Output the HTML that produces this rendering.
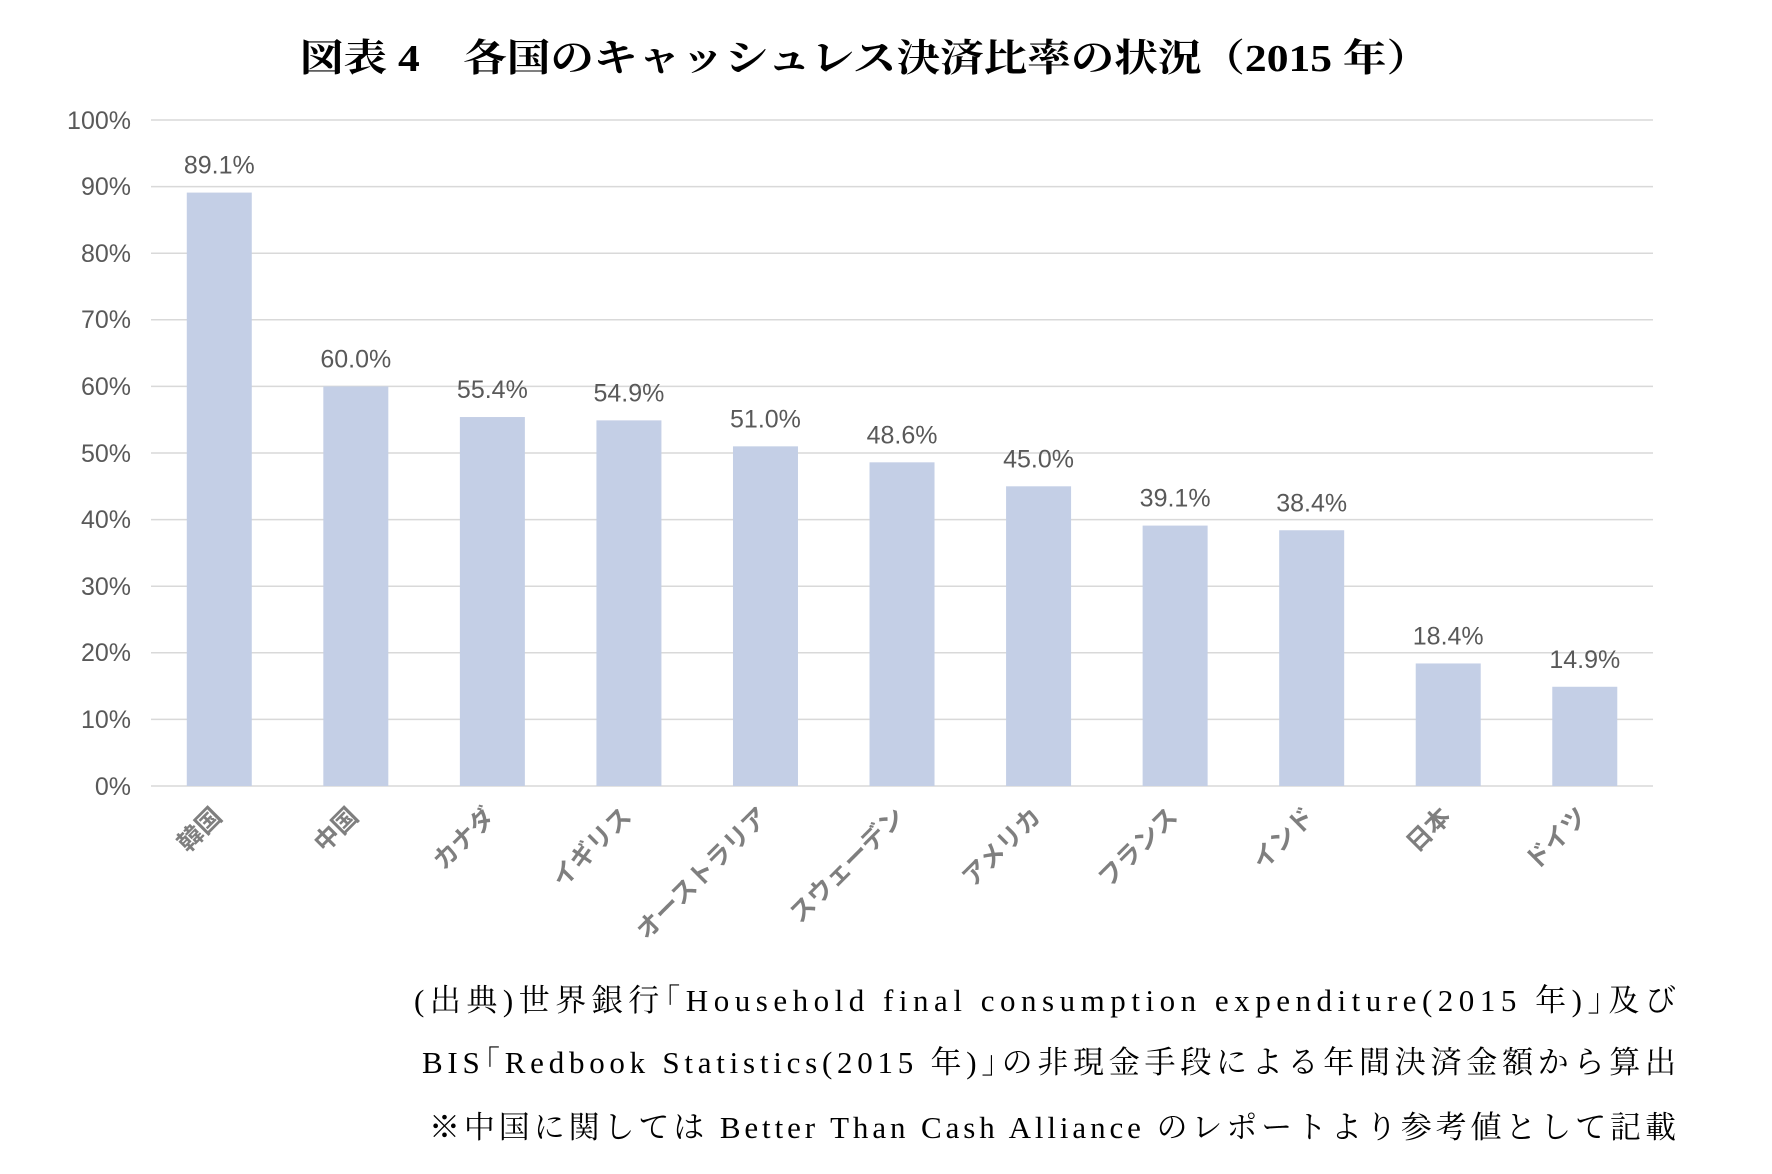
<!DOCTYPE html>
<html><head><meta charset="utf-8"><style>
html,body{margin:0;padding:0;background:#fff;}
svg{display:block;}
</style></head><body>
<svg width="1772" height="1174" viewBox="0 0 1772 1174" xmlns="http://www.w3.org/2000/svg">
<text x="300" y="71" font-family="'Liberation Serif','Noto Serif CJK JP',serif" font-weight="bold" font-size="38" fill="#000" textLength="1130" lengthAdjust="spacingAndGlyphs">図表 4　各国のキャッシュレス決済比率の状況（2015 年）</text>
<g stroke="#d9d9d9" stroke-width="1.5">
<line x1="151" x2="1653" y1="120" y2="120"/><line x1="151" x2="1653" y1="186.6" y2="186.6"/><line x1="151" x2="1653" y1="253.2" y2="253.2"/><line x1="151" x2="1653" y1="319.8" y2="319.8"/><line x1="151" x2="1653" y1="386.4" y2="386.4"/><line x1="151" x2="1653" y1="453" y2="453"/><line x1="151" x2="1653" y1="519.6" y2="519.6"/><line x1="151" x2="1653" y1="586.2" y2="586.2"/><line x1="151" x2="1653" y1="652.8" y2="652.8"/><line x1="151" x2="1653" y1="719.4" y2="719.4"/><line x1="151" x2="1653" y1="786" y2="786"/>
</g>
<g font-family="'Liberation Sans',sans-serif" font-size="25" fill="#595959" text-anchor="end">
<text x="131" y="129">100%</text><text x="131" y="195">90%</text><text x="131" y="262">80%</text><text x="131" y="328">70%</text><text x="131" y="395">60%</text><text x="131" y="462">50%</text><text x="131" y="528">40%</text><text x="131" y="595">30%</text><text x="131" y="661">20%</text><text x="131" y="728">10%</text><text x="131" y="795">0%</text>
</g>
<g fill="#c4cfe6" id="bars"></g>
<g id="vals" font-family="'Liberation Sans',sans-serif" font-size="25" fill="#595959" text-anchor="middle"></g>
<g id="cats" font-family="'Liberation Sans','Noto Sans CJK JP',sans-serif" font-size="25" font-weight="bold" fill="#7f7f7f" text-anchor="end"></g>
<g font-family="'Liberation Serif','Noto Serif CJK JP',serif" font-size="31" fill="#000">
<text x="414" y="1011" textLength="1262" lengthAdjust="spacing">(出典)世界銀行｢Household final consumption expenditure(2015 年)｣及び</text>
<text x="422" y="1073" textLength="1254" lengthAdjust="spacing">BIS｢Redbook Statistics(2015 年)｣の非現金手段による年間決済金額から算出</text>
<text x="429" y="1138" textLength="1247" lengthAdjust="spacing">※中国に関しては Better Than Cash Alliance のレポートより参考値として記載</text>
</g>
<script>
var d=[["韓国",89.1],["中国",60.0],["カナダ",55.4],["イギリス",54.9],["オーストラリア",51.0],["スウェーデン",48.6],["アメリカ",45.0],["フランス",39.1],["インド",38.4],["日本",18.4],["ドイツ",14.9]];
var ns="http://www.w3.org/2000/svg",b=document.getElementById("bars"),v=document.getElementById("vals"),c=document.getElementById("cats");
d.forEach(function(e,i){var cx=151+136.55*(i+0.5),h=e[1]*6.66,top=786-h;
var r=document.createElementNS(ns,"rect");r.setAttribute("x",cx-32.5);r.setAttribute("y",top);r.setAttribute("width",65);r.setAttribute("height",h);b.appendChild(r);
var t=document.createElementNS(ns,"text");t.setAttribute("x",cx);t.setAttribute("y",top-19);t.textContent=e[1].toFixed(1)+"%";v.appendChild(t);
var k=document.createElementNS(ns,"text");k.setAttribute("transform","translate("+(cx+4)+",818) rotate(-45)");k.textContent=e[0];c.appendChild(k);});
</script>
</svg>
</body></html>
